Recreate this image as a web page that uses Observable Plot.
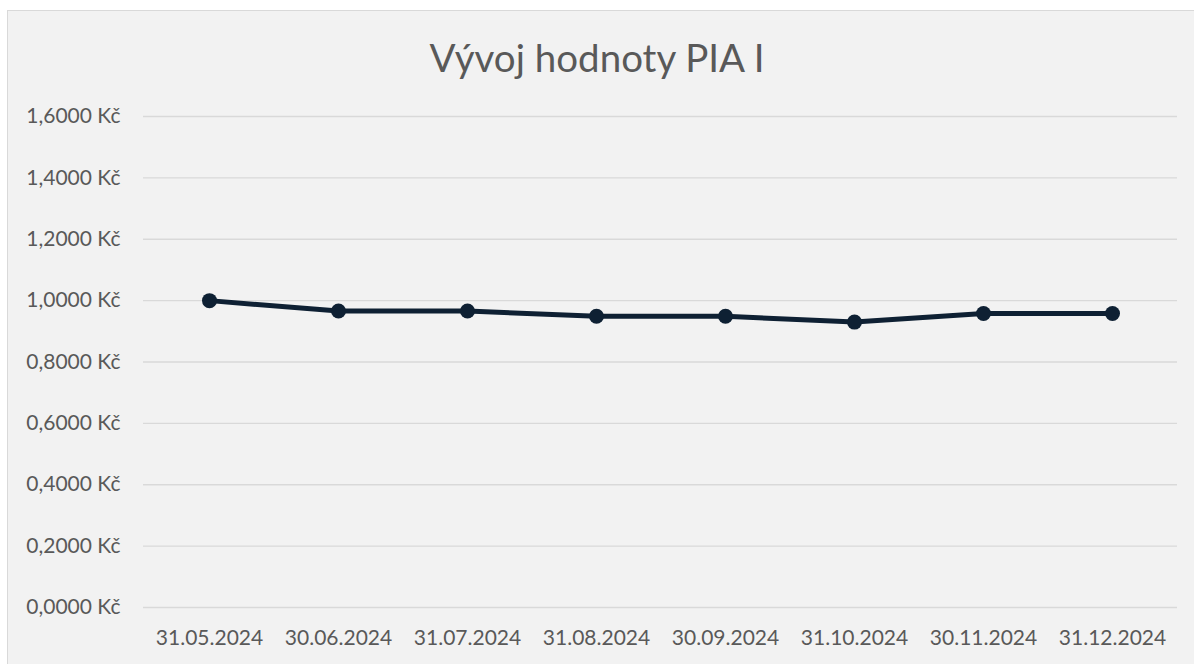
<!DOCTYPE html>
<html>
<head>
<meta charset="utf-8">
<script src="https://cdn.jsdelivr.net/npm/d3@7"></script>
<script src="https://cdn.jsdelivr.net/npm/@observablehq/plot@0.6"></script>
<style>
  html, body { margin: 0; padding: 0; background: #ffffff; }
  #wrap { position: relative; width: 1194px; height: 664px; overflow: hidden; background: #ffffff; }
  #frame { position: absolute; left: 7px; top: 10px; width: 1200px; height: 670px; background: #f2f2f2; border-left: 1px solid #d9d9d9; border-top: 1px solid #d9d9d9; }
  #title { position: absolute; left: 0; top: 33px; width: 1194px; text-align: center; font-family: Lato, "Open Sans", sans-serif; font-size: 38.5px; line-height: 48px; color: #595959; }
  #chart { position: absolute; left: 0; top: 90px; }
</style>
</head>
<body>
<div id="wrap">
  <div id="frame"></div>
  <div id="title">Vývoj hodnoty PIA I</div>
  <div id="chart"></div>
</div>
<script>
const dates = ["31.05.2024", "30.06.2024", "31.07.2024", "31.08.2024", "30.09.2024", "31.10.2024", "30.11.2024", "31.12.2024"];
const values = [1.0000, 0.9660, 0.9660, 0.9490, 0.9490, 0.9300, 0.9580, 0.9580];
const yTicks = [0, 0.2, 0.4, 0.6, 0.8, 1.0, 1.2, 1.4, 1.6];

const data = dates.map((d, i) => ({date: d, value: values[i]}));
const fmt = v => v.toFixed(4).replace(".", ",") + " Kč";

const plot = Plot.plot({
  width: 1194,
  height: 574,
  marginLeft: 143,
  marginRight: 17,
  marginTop: 26,
  marginBottom: 57,
  style: {background: "transparent", fontFamily: "Lato, 'Open Sans', sans-serif", fontSize: "21px", color: "#595959"},
  x: {type: "point", domain: dates, padding: 0.5, label: null},
  y: {domain: [0, 1.6], label: null},
  marks: [
    Plot.gridY(yTicks, {stroke: "#d9d9d9", strokeOpacity: 1, strokeWidth: 1.3}),
    Plot.axisY(yTicks, {tickSize: 0, tickPadding: 23, tickFormat: fmt, fill: "#595959", fontSize: 21}),
    Plot.axisX(dates, {tickSize: 0, tickPadding: 23, fill: "#595959", fontSize: 21}),
    Plot.line(data, {x: "date", y: "value", stroke: "#0e2033", strokeWidth: 5}),
    Plot.dot(data, {x: "date", y: "value", fill: "#0e2033", r: 7.5})
  ]
});
document.getElementById("chart").appendChild(plot);
</script>
</body>
</html>
